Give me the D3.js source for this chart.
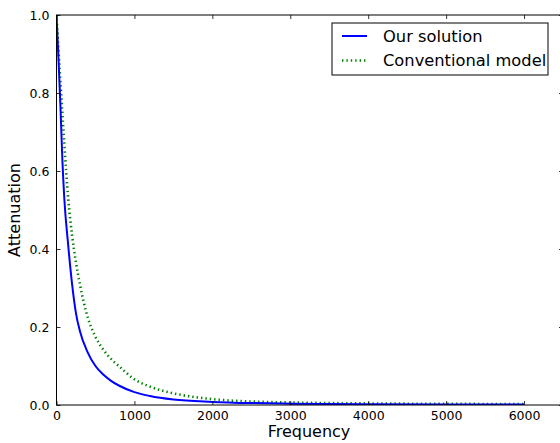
<!DOCTYPE html>
<html>
<head>
<meta charset="utf-8">
<script src="https://cdn.jsdelivr.net/npm/d3@7"></script>
<style>
  body { margin: 0; background: #fff; }
  svg { display: block; font-family: "DejaVu Sans", sans-serif; }
</style>
</head>
<body>
<svg></svg>
<script>
// values
let freqs = [0, 25, 50, 75, 100, 150, 200, 250, 300, 400, 500, 600, 700, 800, 1000, 1200, 1500, 2000, 2500, 3000, 4000, 5000, 6000]
let ourSolution = [1.0, 0.89, 0.77, 0.63, 0.53, 0.41, 0.31, 0.235, 0.19, 0.135, 0.10, 0.078, 0.062, 0.050, 0.033, 0.023, 0.014, 0.008, 0.005, 0.0035, 0.002, 0.0012, 0.001]
let conventional = [1.0, 0.91, 0.83, 0.75, 0.67, 0.53, 0.435, 0.365, 0.31, 0.225, 0.175, 0.142, 0.118, 0.10, 0.066, 0.047, 0.030, 0.015, 0.009, 0.0065, 0.004, 0.003, 0.0025]
let xTicks = [0, 1000, 2000, 3000, 4000, 5000, 6000]
let yTicks = [0.0, 0.2, 0.4, 0.6, 0.8, 1.0]
let seriesNames = ["Our solution", "Conventional model"]

let width = 560
let height = 443
// plot box edges (the right edge falls just outside the picture)
let boxLeft = 56.5, boxTop = 15, boxRight = 563, boxBottom = 405

let svg = d3.select("svg").attr("width", width).attr("height", height)

let xScale = d3.scaleLinear().domain([0, 6500]).range([boxLeft, boxRight])
let yScale = d3.scaleLinear().domain([0, 1]).range([boxBottom, boxTop])

// clip lines to the axes box
svg.append("clipPath").attr("id", "clip")
   .append("rect").attr("x", boxLeft).attr("y", boxTop - 2)
   .attr("width", boxRight - boxLeft).attr("height", boxBottom - boxTop + 2)

let line = d3.line()
  .x((d, i) => xScale(freqs[i]))
  .y(d => yScale(d))
  .curve(d3.curveMonotoneX)

let plot = svg.append("g").attr("clip-path", "url(#clip)")

plot.append("path")
    .attr("d", line(conventional))
    .attr("fill", "none")
    .attr("stroke", "#008000")
    .attr("stroke-width", 2.6)
    .attr("stroke-dasharray", "1.4,3")

plot.append("path")
    .attr("d", line(ourSolution))
    .attr("fill", "none")
    .attr("stroke", "#0000ff")
    .attr("stroke-width", 2)

// axes, ticks pointing inward like the classic matplotlib style
let xAxis = d3.axisBottom(xScale).tickValues(xTicks).tickFormat(d3.format("d")).tickSizeInner(-4).tickSizeOuter(0).tickPadding(6)
let gx = svg.append("g").attr("transform", "translate(0," + boxBottom + ")").call(xAxis)
let xAxisTop = d3.axisTop(xScale).tickValues(xTicks).tickFormat("").tickSizeInner(-4).tickSizeOuter(0)
let gxt = svg.append("g").attr("transform", "translate(0," + boxTop + ")").call(xAxisTop)

let yAxis = d3.axisLeft(yScale).tickValues(yTicks).tickFormat(d3.format(".1f")).tickSizeInner(-4).tickSizeOuter(0).tickPadding(7)
let gy = svg.append("g").attr("transform", "translate(" + boxLeft + ",0)").call(yAxis)
let yAxisRight = d3.axisRight(yScale).tickValues(yTicks).tickFormat("").tickSizeInner(-4).tickSizeOuter(0)
let gyr = svg.append("g").attr("transform", "translate(" + boxRight + ",0)").call(yAxisRight)

for (let g of [gx, gxt, gy, gyr]) {
  g.select(".domain").remove()
  g.selectAll("line").attr("stroke", "#000").attr("stroke-width", 0.8)
  g.selectAll("text").attr("font-size", 12.5).attr("fill", "#000").attr("font-family", "DejaVu Sans")
}
gx.selectAll("text").attr("dy", "0.71em")

svg.append("rect")
   .attr("x", boxLeft).attr("y", boxTop)
   .attr("width", boxRight - boxLeft).attr("height", boxBottom - boxTop)
   .attr("fill", "none").attr("stroke", "#000").attr("stroke-width", 1)

// axis titles
svg.append("text")
   .attr("x", 309).attr("y", 437)
   .attr("text-anchor", "middle").attr("font-size", 16)
   .text("Frequency")

svg.append("text")
   .attr("transform", "translate(20," + ((boxTop + boxBottom) / 2) + ") rotate(-90)")
   .attr("text-anchor", "middle").attr("font-size", 16)
   .text("Attenuation")

// legend
let legend = svg.append("g")
legend.append("rect")
      .attr("x", 332).attr("y", 23).attr("width", 216).attr("height", 52)
      .attr("fill", "#fff").attr("stroke", "#000").attr("stroke-width", 1)

let legendStyles = [
  {color: "#0000ff", w: 2, dash: null},
  {color: "#008000", w: 2.6, dash: "1.4,3"}
]
seriesNames.forEach((name, i) => {
  let y = 36 + i * 24.5
  legend.append("line")
        .attr("x1", 342).attr("x2", 367).attr("y1", y).attr("y2", y)
        .attr("stroke", legendStyles[i].color).attr("stroke-width", legendStyles[i].w)
        .attr("stroke-dasharray", legendStyles[i].dash)
  legend.append("text")
        .attr("x", 383).attr("y", y).attr("dy", "0.35em")
        .attr("font-size", 16.3).text(name)
})
</script>
</body>
</html>
